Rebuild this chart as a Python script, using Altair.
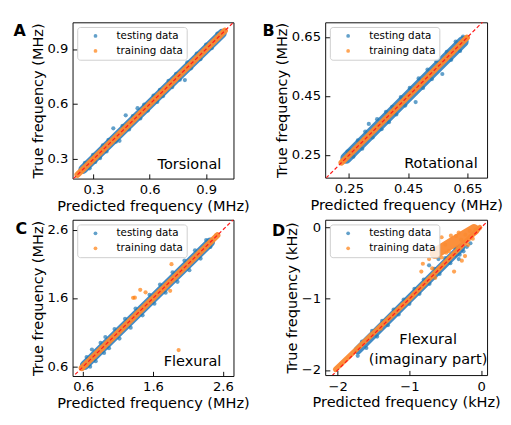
import altair as alt
import pandas as pd

FONT = "DejaVu Sans"
BLUE = "#1f77b4"
ORANGE = "#ff7f0e"
SERIES = ["testing data", "training data"]

# ---------------- Panel A : Torsional (MHz) ----------------
A_ticks = [0.3, 0.6, 0.9]
A_test_band_pred = [0.245, 0.60, 0.985]
A_test_band_true = [0.245, 0.60, 0.985]
A_train_band_pred = [0.215, 0.60, 1.0]
A_train_band_true = [0.215, 0.60, 1.0]
A_test_pred = [0.255, 0.28, 0.298, 0.31, 0.336, 0.35, 0.37, 0.38, 0.406, 0.42, 0.439, 0.455, 0.472, 0.49, 0.51, 0.535, 0.55,
               0.57, 0.59, 0.62, 0.64, 0.654, 0.67, 0.70, 0.72, 0.74, 0.76, 0.787, 0.80, 0.82, 0.85, 0.87, 0.90, 0.93, 0.96]
A_test_true = [0.28, 0.25, 0.323, 0.285, 0.306, 0.375, 0.342, 0.405, 0.468, 0.395, 0.400, 0.482, 0.539, 0.462, 0.535, 0.578, 0.522,
               0.597, 0.565, 0.647, 0.612, 0.678, 0.643, 0.727, 0.693, 0.765, 0.733, 0.731, 0.828, 0.795, 0.875, 0.845, 0.925, 0.905, 0.985]
A_train_pred = [0.22, 0.24, 0.30, 0.42, 0.55, 0.68, 0.80, 0.92, 0.99]
A_train_true = [0.225, 0.235, 0.305, 0.415, 0.555, 0.675, 0.805, 0.915, 0.995]

# ---------------- Panel B : Rotational (MHz) ----------------
B_ticks = [0.25, 0.45, 0.65]
B_test_band_pred = [0.24, 0.44, 0.635]
B_test_band_true = [0.24, 0.44, 0.635]
B_train_band_pred = [0.225, 0.44, 0.648]
B_train_band_true = [0.225, 0.44, 0.648]
B_test_pred = [0.245, 0.254, 0.265, 0.28, 0.295, 0.305, 0.317, 0.33, 0.345, 0.36, 0.375, 0.385, 0.396, 0.41, 0.425,
               0.44, 0.455, 0.475, 0.485, 0.50, 0.515, 0.53, 0.545, 0.565, 0.58, 0.595, 0.61, 0.625, 0.635]
B_test_true = [0.262, 0.266, 0.245, 0.30, 0.272, 0.33, 0.356, 0.31, 0.372, 0.338, 0.397, 0.362, 0.414, 0.388, 0.447,
               0.418, 0.478, 0.430, 0.51, 0.478, 0.54, 0.508, 0.568, 0.525, 0.60, 0.573, 0.635, 0.603, 0.652]
B_train_pred = [0.228, 0.235, 0.30, 0.40, 0.50, 0.60, 0.645]
B_train_true = [0.232, 0.231, 0.305, 0.395, 0.505, 0.595, 0.648]

# ---------------- Panel C : Flexural (MHz) ----------------
C_ticks = [0.6, 1.6, 2.6]
C_test_band_pred = [0.62, 1.5, 2.42]
C_test_band_true = [0.62, 1.5, 2.42]
C_train_band_pred = [0.58, 1.5, 2.52]
C_train_band_true = [0.58, 1.5, 2.52]
C_test_pred = [0.65, 0.70, 0.726, 0.78, 0.85, 0.90, 0.918, 0.97, 1.05, 1.12, 1.2, 1.28, 1.35, 1.45, 1.55, 1.62, 1.70,
               1.78, 1.88, 1.95, 2.05, 2.12, 2.2, 2.28, 2.36, 2.42]
C_test_true = [0.74, 0.60, 0.851, 0.68, 0.95, 0.80, 1.034, 0.87, 1.15, 1.01, 1.30, 1.17, 1.45, 1.35, 1.65, 1.52, 1.80,
               1.68, 1.98, 1.84, 2.15, 2.01, 2.30, 2.18, 2.45, 2.35]
C_train_pred = [1.864, 1.417, 1.34, 1.315, 1.493, 1.845, 1.966, 0.60, 0.65, 2.50]
C_train_true = [2.098, 1.723, 1.609, 1.606, 1.687, 1.709, 0.842, 0.575, 0.62, 2.52]

# ---------------- Panel D : Flexural, imaginary part (kHz) ----------------
D_ticks = [-2, -1, 0]
D_test_band_pred = [-1.72, -1.0, -0.28]
D_test_band_true = [-1.72, -1.0, -0.28]
D_train_band_pred = [-2.03, -1.0, -0.02]
D_train_band_true = [-1.99, -1.0, 0.0]
D_cluster_pred = [-0.64, -0.38, -0.10]
D_cluster_true = [-0.36, -0.20, -0.03]
D_test_pred = [-1.72, -1.66, -1.6, -1.52, -1.45, -1.38, -1.3, -1.22, -1.15, -1.08, -1.0, -0.93, -0.86, -0.8, -0.72,
               -0.65, -0.58, -0.5, -0.43, -0.36, -0.3, -0.726, -0.595, -0.313, -0.247, -0.36, -0.20, -0.15]
D_test_true = [-1.80, -1.60, -1.69, -1.45, -1.53, -1.31, -1.37, -1.15, -1.22, -1.01, -1.07, -0.86, -0.93, -0.73, -0.79,
               -0.58, -0.65, -0.43, -0.50, -0.29, -0.38, -0.53, -0.443, -0.443, -0.333, -0.39, -0.27, -0.22]
D_train_pred = [-0.813, -0.834, -0.683, -0.64, -0.573, -0.378, -0.27, -0.226, -0.683, -0.726, -0.552, -0.422,
                -0.313, -0.16, -0.182, -0.117, -0.487, -0.60, -0.50, -0.45, -0.35, -0.28, -0.22, -0.55,
                -0.42, -0.33, -0.25, -0.08, -1.95, -1.7, -1.4, -1.1]
D_train_true = [-0.508, -0.618, -0.574, -0.706, -0.574, -0.618, -0.465, -0.40, -0.377, -0.443, -0.136, -0.114,
                -0.07, -0.048, -0.245, -0.157, -0.354, -0.30, -0.24, -0.33, -0.12, -0.17, -0.10, -0.42,
                -0.40, -0.27, -0.20, -0.03, -1.92, -1.68, -1.42, -1.08]


def pts(tp, tt, rp, rt):
    rows = [{"pred": p, "true": t, "series": SERIES[0]} for p, t in zip(tp, tt)]
    rows += [{"pred": p, "true": t, "series": SERIES[1]} for p, t in zip(rp, rt)]
    return pd.DataFrame(rows)


def ldf(p, t):
    return pd.DataFrame({"pred": p, "true": t})


def panel(letter, lxy, w, h, dx, dy, ticks, fmt, unit, test_band, train_bands, points, diag, label, label_xy, label_align):
    x = alt.X("pred:Q", scale=alt.Scale(domain=dx, nice=False, zero=False),
              axis=alt.Axis(values=ticks, format=fmt, title=f"Predicted frequency ({unit})",
                            offset=-5, labelPadding=5, titlePadding=3))
    y = alt.Y("true:Q", scale=alt.Scale(domain=dy, nice=False, zero=False),
              axis=alt.Axis(values=ticks, format=fmt, title=f"True frequency ({unit})",
                            offset=-5, labelPadding=5, titlePadding=2))
    layers = []
    df, sw = test_band
    layers.append(alt.Chart(df).mark_line(color="#2f7fbf", strokeWidth=sw, strokeCap="round", opacity=0.9,
                                          clip=True).encode(x=x, y=y))
    layers.append(alt.Chart(points).mark_circle(size=20, opacity=0.7, clip=True).encode(
        x=x, y=y,
        color=alt.Color("series:N", scale=alt.Scale(domain=SERIES, range=[BLUE, ORANGE]),
                        legend=alt.Legend(title=None))))
    for df, sw in train_bands:
        layers.append(alt.Chart(df).mark_line(color="#fb8a32", strokeWidth=sw, strokeCap="round", opacity=0.95,
                                              clip=True).encode(x=x, y=y))
    layers.append(alt.Chart(ldf(diag, diag)).mark_line(color="#ff1a1a", strokeDash=[4, 2.5], strokeWidth=1.3,
                                                      clip=True).encode(x=x, y=y))
    layers.append(alt.Chart(pd.DataFrame({"t": [letter]})).mark_text(
        font=FONT, fontSize=17, fontWeight="bold", align="left", baseline="alphabetic", color="black"
    ).encode(x=alt.value(lxy[0]), y=alt.value(lxy[1]), text="t:N"))
    layers.append(alt.Chart(pd.DataFrame({"t": [0]})).mark_text(
        text=label, font=FONT, fontSize=15.5, align=label_align, baseline="alphabetic", lineHeight=21.5, color="black"
    ).encode(x=alt.value(label_xy[0]), y=alt.value(label_xy[1])))
    return alt.layer(*layers).properties(width=w, height=h)


A = panel("A", (-63, 15), 172, 167, [0.189, 1.046], [0.194, 1.046], A_ticks, ".1f", "MHz",
          (ldf(A_test_band_pred, A_test_band_true), 10),
          [(ldf(A_train_band_pred, A_train_band_true), 6.5)],
          pts(A_test_pred, A_test_true, A_train_pred, A_train_true), [0.1, 1.2],
          "Torsional", (159, 157), "right")
B = panel("B", (-67, 15), 173, 166, [0.170, 0.716], [0.174, 0.700], B_ticks, ".2f", "MHz",
          (ldf(B_test_band_pred, B_test_band_true), 12),
          [(ldf(B_train_band_pred, B_train_band_true), 6.5)],
          pts(B_test_pred, B_test_true, B_train_pred, B_train_true), [0.1, 0.8],
          "Rotational", (163, 156), "right")
C = panel("C", (-61, 15), 172, 167, [0.449, 2.751], [0.463, 2.747], C_ticks, ".1f", "MHz",
          (ldf(C_test_band_pred, C_test_band_true), 10),
          [(ldf(C_train_band_pred, C_train_band_true), 6.5)],
          pts(C_test_pred, C_test_true, C_train_pred, C_train_true), [0.3, 3.0],
          "Flexural", (159, 156), "right")
D = panel("D", (-57, 17), 173, 166, [-2.173, 0.082], [-2.07, 0.109], D_ticks, "d", "kHz",
          (ldf(D_test_band_pred, D_test_band_true), 9),
          [(ldf(D_train_band_pred, D_train_band_true), 5.5),
           (ldf(D_cluster_pred, D_cluster_true), 12)],
          pts(D_test_pred, D_test_true, D_train_pred, D_train_true), [-2.5, 0.3],
          ["Flexural", "(imaginary part)"], (110, 133), "center")

chart = alt.concat(A, B, C, D, columns=2, spacing={"row": 5, "column": 12}, align="each").resolve_scale(
    color="independent"
).properties(
    padding={"left": 5, "top": 0, "right": 0, "bottom": 0}
).configure_view(
    stroke="black", strokeWidth=1
).configure_axis(
    domain=False, grid=False, tickSize=5, tickColor="black", tickWidth=1,
    labelFont=FONT, labelFontSize=14, labelColor="black",
    titleFont=FONT, titleFontSize=15.5, titleFontWeight="normal", titleColor="black"
).configure_legend(
    orient="top-left", offset=5, padding=4, fillColor="rgba(255,255,255,0.8)", strokeColor="#cccccc",
    cornerRadius=3, labelFont=FONT, labelFontSize=11, labelColor="black", symbolSize=16, symbolType="circle",
    rowPadding=4, symbolOffset=10, labelOffset=17
)

chart.save("out.html", embed_options={"renderer": "svg", "actions": False})
